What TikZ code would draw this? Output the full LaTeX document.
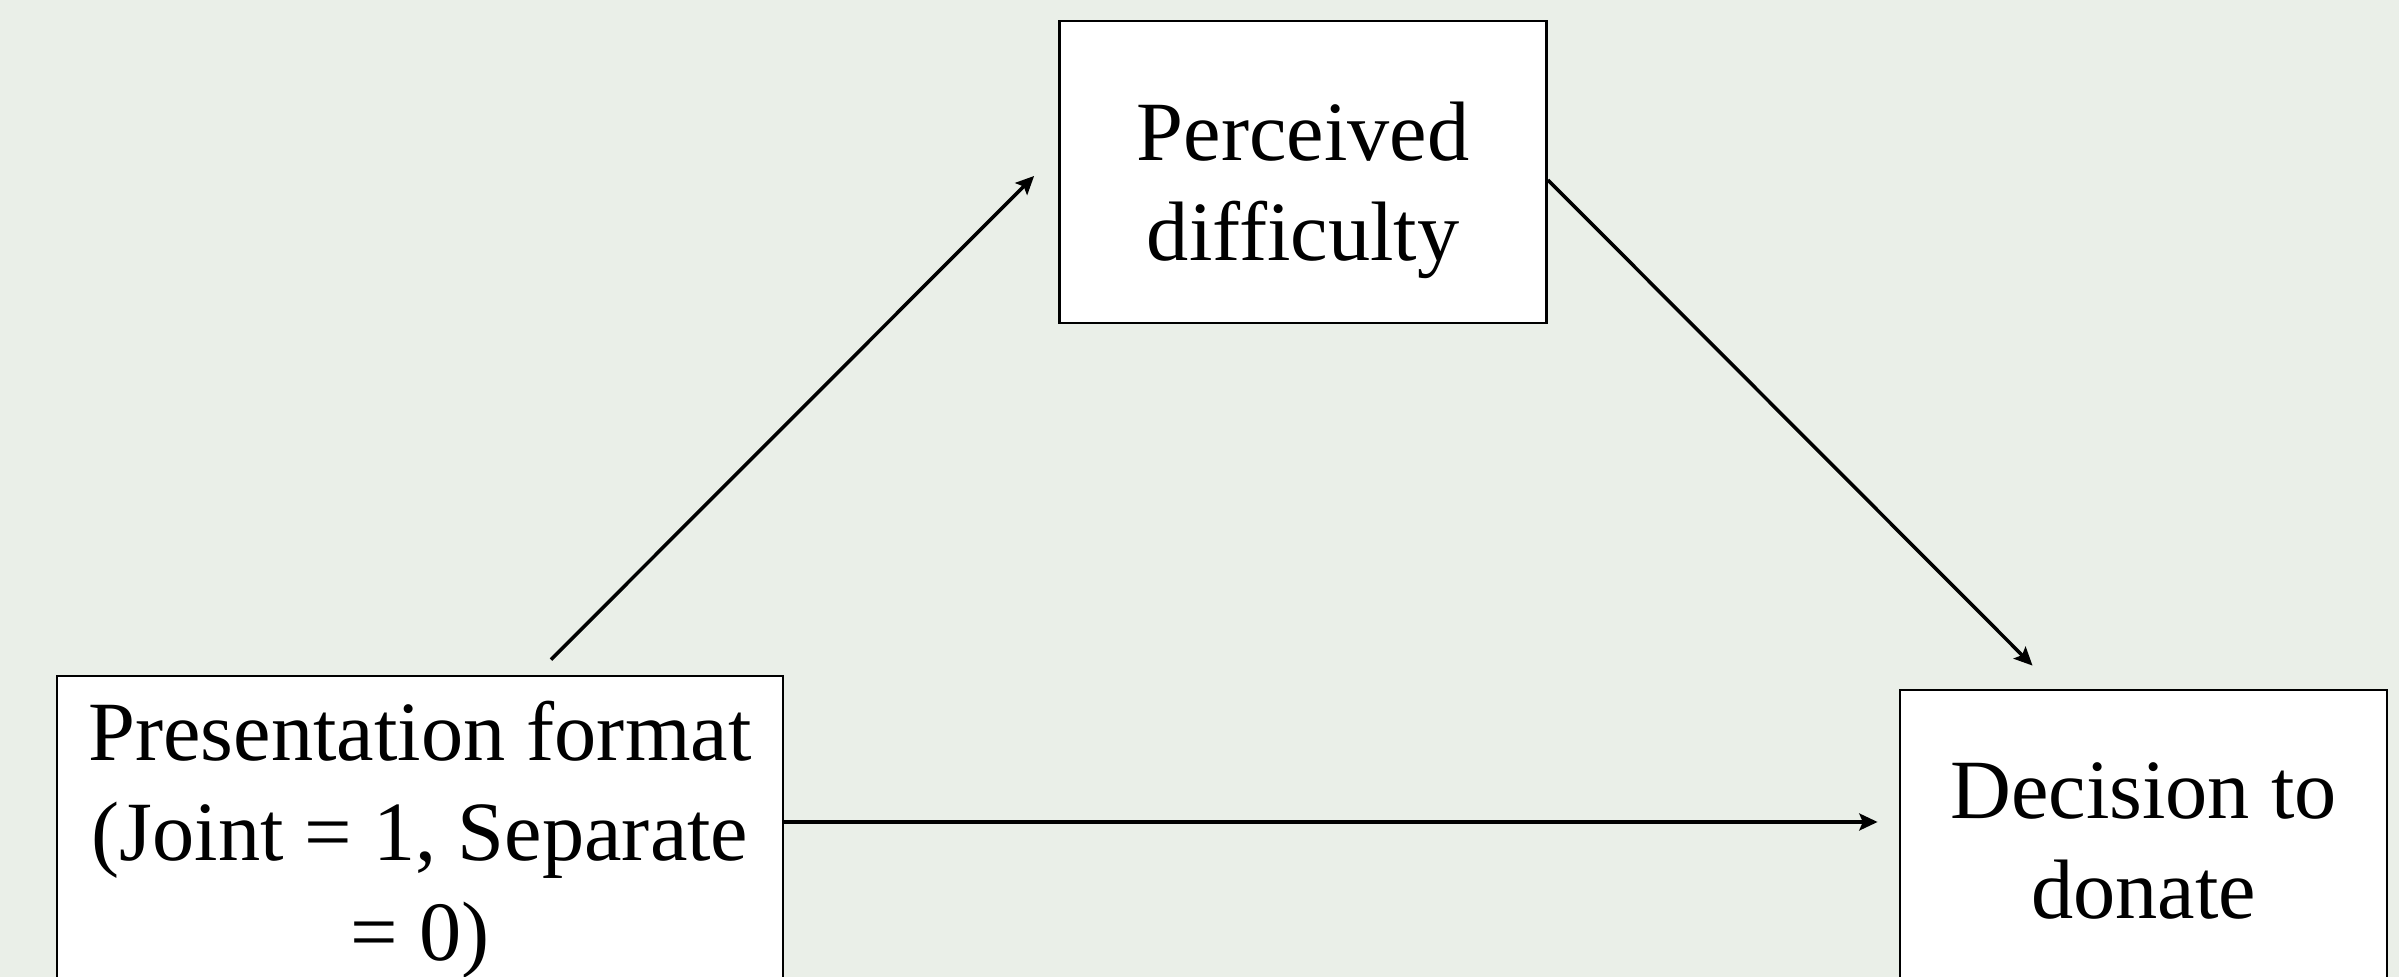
\documentclass[tikz,border=0pt]{standalone}
\usepackage{fontspec}
\setmainfont{Liberation Serif}
\usetikzlibrary{arrows.meta}
\definecolor{bgpanel}{RGB}{234,239,232}

\begin{document}
\begin{tikzpicture}[font=\fontsize{24}{28.5}\selectfont, >={Stealth[length=5.2pt,width=4.8pt,inset=1pt]},
	varbox/.style={draw, fill=white, line width=0.8pt, align=center, inner sep=0pt},
	link/.style={->, line width=1pt}]
	\useasboundingbox (0,0) rectangle (23.99,-9.77);
	\fill[bgpanel] (0,0) rectangle (23.99,-9.77);
	\clip (0,0) rectangle (23.99,-9.77);
	% the three variables
	\node[varbox, minimum width=4.87cm, minimum height=3.02cm] (pd) at (13.03,-1.72) {\rule{0pt}{0.95cm}Perceived\\difficulty};
	\node[varbox, minimum width=7.26cm, minimum height=3.28cm] (pf) at (4.20,-8.40) {Presentation format\\(Joint = 1, Separate\\= 0)};
	\node[varbox, minimum width=4.87cm, minimum height=3.02cm] (dd) at (21.435,-8.41) {Decision to\\donate};
	% paths
	\draw[link] ([shift={(1.31,0.15)}]pf.north) -- ([shift={(-0.24,-0.04)}]pd.west);
	\draw[link] ([yshift=-0.08cm]pd.east) -- ([shift={(-1.11,0.23)}]dd.north);
	\draw[link] ([yshift=0.18cm]pf.east) -- ([shift={(-0.21,0.19)}]dd.west);
\end{tikzpicture}
\end{document}
